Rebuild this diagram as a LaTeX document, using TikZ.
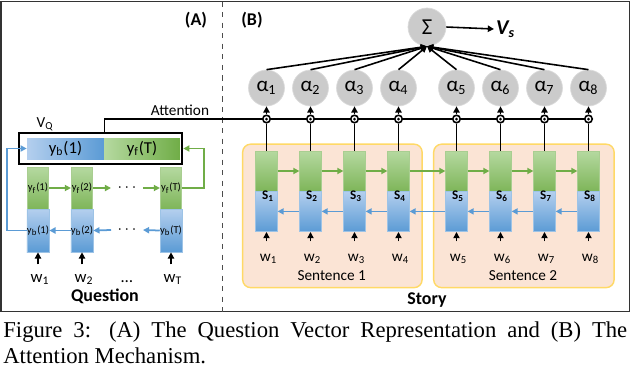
\documentclass[tikz,border=0pt]{standalone}
\usepackage{fontspec}
\setmainfont{Carlito}
\newfontfamily\captionfont{Liberation Serif}
\usetikzlibrary{arrows.meta,calc}

\definecolor{fwdgreen}{HTML}{70AD47}
\definecolor{fwdlight}{HTML}{B5D9A0}
\definecolor{bwdblue}{HTML}{5B9BD5}
\definecolor{bwdlight}{HTML}{B4CFEE}
\definecolor{sentfill}{HTML}{FBE4D5}
\definecolor{sentedge}{HTML}{FFD966}
\definecolor{gatefill}{HTML}{CBCBCB}

\begin{document}
\begin{tikzpicture}[x=0.02cm, y=-0.02cm,
		fwd node/.style={draw=fwdgreen!60, top color=fwdlight, bottom color=fwdgreen!90, minimum width=0.43cm, inner sep=0pt},
		bwd node/.style={draw=bwdblue!60, top color=bwdlight, bottom color=bwdblue, minimum width=0.43cm, inner sep=0pt},
		fwd arrow/.style={fwdgreen, line width=1pt, -{Triangle[length=3.5pt,width=3.5pt]}},
		bwd arrow/.style={bwdblue, line width=1pt, -{Triangle[length=3.5pt,width=3.5pt]}},
		in arrow/.style={black, line width=0.9pt, -{Triangle[length=3.5pt,width=3.5pt]}},
		gate node/.style={circle, draw=gatefill!70!white, fill=gatefill, inner sep=0pt},
		odot node/.style={circle, draw, fill=white, line width=0.9pt, minimum size=0.15cm, inner sep=0pt},
		word node/.style={font=\fontsize{8.7}{10}\selectfont, inner sep=1pt},
		title node/.style={font=\fontsize{10.2}{12}\selectfont\bfseries, inner sep=1pt},
		cell text/.style={font=\fontsize{6}{7}\selectfont}
		]
		\useasboundingbox (0,0) rectangle (630,366);
		\draw[line width=0.7pt, black!80] (1,1.5) rectangle (629.5,311.5);
		\draw[dashed, line width=0.5pt, black!70] (222,1.5) -- (222,311.5);
		\node[title node] (lblA) at (196,20) {(A)};
		\node[title node] (lblB) at (252,20) {(B)};
		
		\node[draw=sentedge, fill=sentfill, rounded corners=0.16cm, line width=0.8pt, minimum width=3.59cm, minimum height=2.87cm] (sent1) at (332.4,215.9) {};
		\node[draw=sentedge, fill=sentfill, rounded corners=0.16cm, line width=0.8pt, minimum width=3.61cm, minimum height=2.87cm] (sent2) at (523.9,215.9) {};
		\node[word node] (sl1) at (331.7,275.7) {Sentence 1};
		\node[word node] (sl2) at (523,275.7) {Sentence 2};
		\node[title node] (story) at (427,300) {Story};
		
		\foreach \i/\x in {1/266.5,2/310.5,3/354.5,4/398.5,5/456.5,6/500.5,7/544.5,8/588.5}{
			\node[fwd node, minimum height=0.8cm] (f\i) at (\x,171) {};
			\node[bwd node, minimum height=0.81cm] (b\i) at (\x,211.4) {};
			\node[font=\fontsize{7.5}{9}\selectfont\bfseries, inner sep=0pt] (s\i) at (\x+1.5,196) {S\textsubscript{\i}};
			\node[word node, anchor=base] (w\i) at (\x+2,261.7) {w\textsubscript{\i}};
			\draw[in arrow, shorten <=0.22cm] (w\i.north -| b\i.south) -- (b\i.south);
			\node[odot node] (o\i) at (\x,119) {};
			\fill (o\i) circle (0.03cm);
			\node[gate node, minimum size=0.72cm, font=\fontsize{12}{14}\selectfont] (a\i) at (\x,88) {α\textsubscript{\i}};
			\draw[line width=0.9pt] (f\i.north) -- (o\i.south);
			\draw[in arrow] (o\i.north) -- (a\i.south);
		}
		\foreach \i/\j in {1/2,2/3,3/4,4/5,5/6,6/7,7/8}{
			\draw[fwd arrow] (f\i.east) -- (f\j.west);
			\draw[bwd arrow] (b\j.west) -- (b\i.east);
			\draw[line width=0.9pt] (o\i.east) -- (o\j.west);
		}
		
		\node[gate node, minimum size=0.76cm, font=\fontsize{13}{15}\selectfont] (sum) at (427,27) {Σ};
		\foreach \i in {1,...,8}
			\draw[in arrow] (a\i.north) -- (sum.south);
		\node[font=\fontsize{12}{14}\selectfont\bfseries\itshape, anchor=west, inner sep=1pt] (vs) at (494,29) {V\textsubscript{s}};
		\draw[in arrow] (sum.east) -- (vs.west);
		
		\node[draw, line width=1.5pt, minimum width=3.26cm, minimum height=0.62cm] (qbox) at (100.5,148.5) {};
		\node[left color=bwdlight, right color=bwdblue, minimum width=1.54cm, minimum height=0.42cm, inner sep=0pt, font=\fontsize{9.5}{11}\selectfont] (vb) at (65.5,148.5) {y\textsubscript{b}(1)};
		\node[left color=fwdlight, right color=fwdgreen, minimum width=1.52cm, minimum height=0.42cm, inner sep=0pt, font=\fontsize{9.5}{11}\selectfont] (vf) at (142,148.5) {y\textsubscript{f}(T)};
		\node[word node] (vq) at (45,124) {V\textsubscript{Q}};
		\node[word node] (att) at (180,110) {Attention};
		\draw[line width=0.9pt] (vb.north east |- qbox.north) |- (o1.west);
		
		\foreach \i/\x/\lab in {1/38/1,2/82/2,T/171/T}{
			\node[fwd node, minimum height=0.84cm, cell text] (yf\i) at (\x,188) {y\textsubscript{f}(\lab)};
			\node[bwd node, minimum height=0.86cm, cell text] (yb\i) at (\x,230.5) {y\textsubscript{b}(\lab)};
			\node[word node, anchor=base, font=\fontsize{9.5}{11}\selectfont] (qw\i) at (\x+2,282) {w\textsubscript{\lab}};
			\draw[in arrow, shorten <=0.15cm] (qw\i.north -| yb\i.south) -- (yb\i.south);
		}
		\node[word node, inner sep=3.5pt] (dotf) at (127,188) {$\cdots$};
		\node[word node, inner sep=3.5pt] (dotb) at (127,230) {$\cdots$};
		\node[word node, anchor=base, font=\fontsize{9.5}{11}\selectfont] (dotw) at (127,282) {\dots};
		\draw[fwd arrow] (yf1.east) -- (yf2.west);
		\draw[fwd arrow] (yf2.east) -- (dotf.west);
		\draw[fwd arrow] (dotf.east) -- (yfT.west);
		\draw[bwd arrow] (ybT.west) -- (dotb.east);
		\draw[bwd arrow] (dotb.west) -- (yb2.east);
		\draw[bwd arrow] (yb2.west) -- (yb1.east);
		\coordinate (fturn) at (204,148.5);
		\coordinate (bturn) at (7,148.5);
		\draw[fwd arrow] (yfT.east) -| (fturn) -- (qbox.east);
		\draw[bwd arrow] (yb1.west) -| (bturn) -- (vb.west);
		\node[title node] (question) at (105,296) {Question};
		
		\node[anchor=base west, inner sep=0pt, font=\captionfont\fontsize{12.9}{15}\selectfont] (cap1) at (3,337) {\makebox[12.48cm][s]{Figure 3: (A) The Question Vector Representation and (B) The}};
		\node[anchor=base west, inner sep=0pt, font=\captionfont\fontsize{12.9}{15}\selectfont] (cap2) at (3,363.5) {Attention Mechanism.};
	\end{tikzpicture}
\end{document}
